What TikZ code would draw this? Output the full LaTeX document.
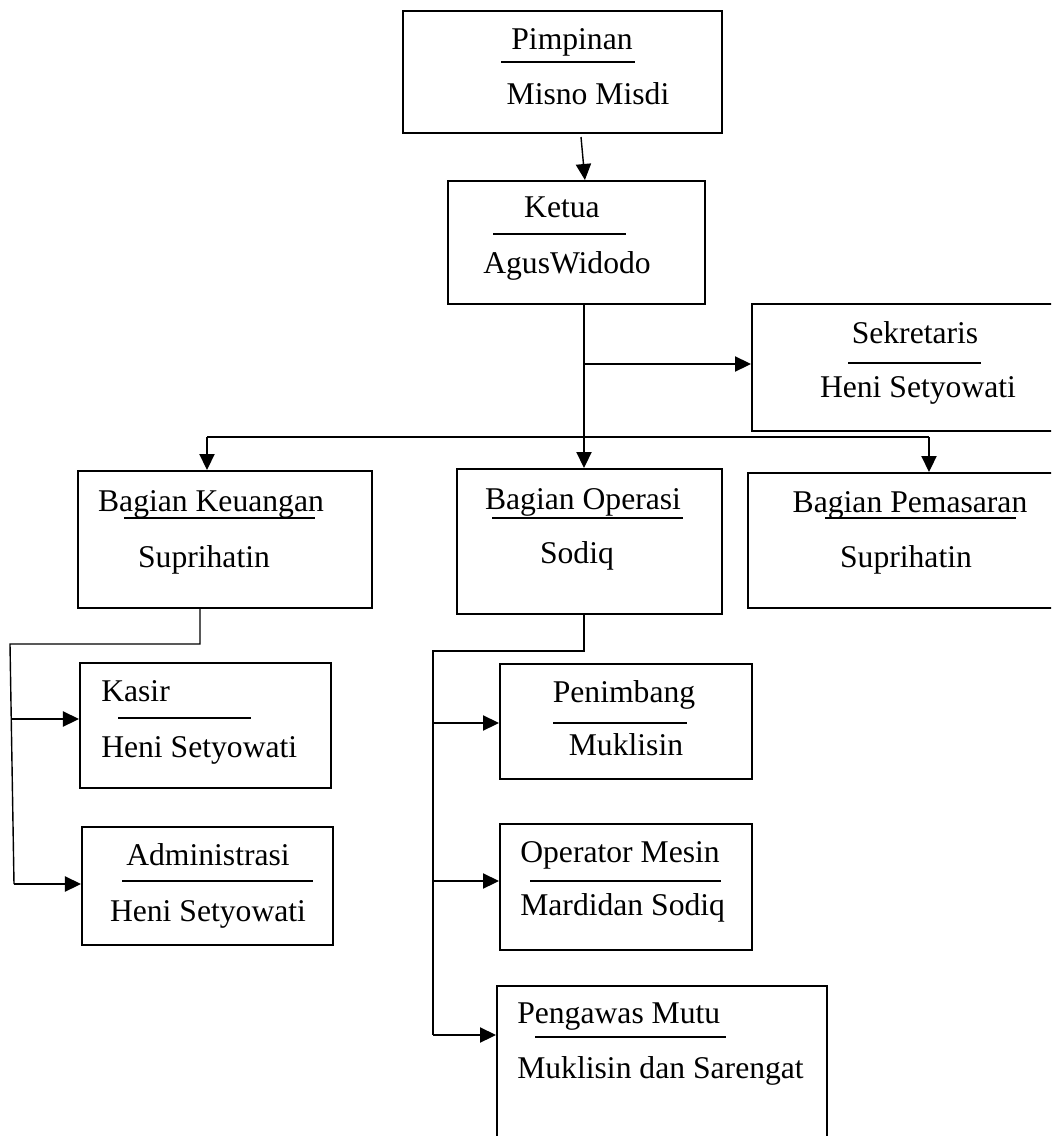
\documentclass[tikz,border=0pt]{standalone}
\usepackage{fontspec}
\setmainfont{Liberation Serif}
\usetikzlibrary{arrows.meta}

\begin{document}
\begin{tikzpicture}[x=0.025cm, y=-0.025cm,
    kotak/.style={draw, line width=1.3pt, inner sep=0pt, anchor=north west},
    teks/.style={anchor=base, inner sep=0pt, font=\fontsize{22.5}{27}\selectfont},
    garis/.style={line width=1pt},
    panah/.style={line width=1pt, -{Triangle[length=0.4cm, width=0.38cm]}},
    pemisah/.style={line width=1.2pt}]
            \useasboundingbox (0,0) rectangle (1051,1136);
            \clip (0,0) rectangle (1051,1136);

            % kotak jabatan
            \node[kotak, minimum width=319*0.025cm, minimum height=122*0.025cm] (pimpinan) at (402,10) {};
            \node[kotak, minimum width=257*0.025cm, minimum height=123*0.025cm] (ketua) at (447,180) {};
            \node[kotak, minimum width=360*0.025cm, minimum height=127*0.025cm] (sekretaris) at (751,303) {};
            \node[kotak, minimum width=294*0.025cm, minimum height=137*0.025cm] (keuangan) at (77,470) {};
            \node[kotak, minimum width=265*0.025cm, minimum height=145*0.025cm] (operasi) at (456,468) {};
            \node[kotak, minimum width=364*0.025cm, minimum height=135*0.025cm] (pemasaran) at (747,472) {};
            \node[kotak, minimum width=251*0.025cm, minimum height=125*0.025cm] (kasir) at (79,662) {};
            \node[kotak, minimum width=251*0.025cm, minimum height=118*0.025cm] (admin) at (81,826) {};
            \node[kotak, minimum width=252*0.025cm, minimum height=115*0.025cm] (penimbang) at (499,663) {};
            \node[kotak, minimum width=252*0.025cm, minimum height=126*0.025cm] (operator) at (499,823) {};
            \node[kotak, minimum width=330*0.025cm, minimum height=180*0.025cm] (pengawas) at (496,985) {};

            % isi kotak
            \node[teks] (pimpinanA) at (572,50) {Pimpinan};
            \node[teks] (pimpinanB) at (588,105) {Misno Misdi};
            \draw[pemisah] (501,62) -- (635,62);

            \node[teks] (ketuaA) at (562,218) {Ketua};
            \node[teks] (ketuaB) at (567,273) {AgusWidodo};
            \draw[pemisah] (493,234) -- (626,234);

            \node[teks] (sekretarisA) at (915,343) {Sekretaris};
            \node[teks] (sekretarisB) at (918,397) {Heni Setyowati};
            \draw[pemisah] (848,363) -- (981,363);

            \node[teks] (keuanganA) at (211,511) {Bagian Keuangan};
            \node[teks] (keuanganB) at (204,567) {Suprihatin};
            \draw[pemisah] (124,518) -- (315,518);

            \node[teks] (operasiA) at (583,509) {Bagian Operasi};
            \node[teks] (operasiB) at (577,563) {Sodiq};
            \draw[pemisah] (492,518) -- (683,518);

            \node[teks] (pemasaranA) at (910,512) {Bagian Pemasaran};
            \node[teks] (pemasaranB) at (906,567) {Suprihatin};
            \draw[pemisah] (825,518) -- (1016,518);

            \node[teks, anchor=base west] (kasirA) at (101,701) {Kasir};
            \node[teks, anchor=base west] (kasirB) at (101,757) {Heni Setyowati};
            \draw[pemisah] (118,718) -- (251,718);

            \node[teks] (adminA) at (208,865) {Administrasi};
            \node[teks] (adminB) at (208,921) {Heni Setyowati};
            \draw[pemisah] (122,881) -- (313,881);

            \node[teks] (penimbangA) at (624,702) {Penimbang};
            \node[teks] (penimbangB) at (626,755) {Muklisin};
            \draw[pemisah] (553,723) -- (687,723);

            \node[teks, anchor=base west] (operatorA) at (520,862) {Operator Mesin};
            \node[teks, anchor=base west] (operatorB) at (520,915) {Mardidan Sodiq};
            \draw[pemisah] (530,881) -- (721,881);

            \node[teks, anchor=base west] (pengawasA) at (517,1023) {Pengawas Mutu};
            \node[teks, anchor=base west] (pengawasB) at (517,1078) {Muklisin dan Sarengat};
            \draw[pemisah] (535,1037) -- (726,1037);

            % garis komando
            \coordinate (p0) at (581,137);
            \coordinate (batang) at (584,303);
            \coordinate (bk) at (207,437);
            \coordinate (bp) at (929,437);
            \draw[panah] (p0) -- ([xshift=8.5*0.025cm]ketua.north);
            \draw[panah] (batang) -- (batang |- operasi.north);
            \draw[panah] (batang |- 0,364) -- (sekretaris.west |- 0,364);
            \draw[garis] (bk) -- (bp);
            \draw[panah] (bk) -- (bk |- keuangan.north);
            \draw[panah] (bp) -- (bp |- pemasaran.north);

            \coordinate (ks) at (200,644);
            \coordinate (kl) at (10,644);
            \coordinate (kb) at (14,884);
            \draw[garis] (ks |- keuangan.south) -- (ks) -- (kl) -- (kb);
            \draw[panah] (12,719) -- (kasir.west |- 0,719);
            \draw[panah] (kb) -- (kb -| admin.west);

            \coordinate (os) at (584,651);
            \coordinate (ol) at (433,651);
            \coordinate (ob) at (433,1035);
            \draw[garis] (os |- operasi.south) -- (os) -- (ol) -- (ob);
            \draw[panah] (ol |- 0,723) -- (penimbang.west |- 0,723);
            \draw[panah] (ol |- 0,881) -- (operator.west |- 0,881);
            \draw[panah] (ob) -- (ob -| pengawas.west);
        \end{tikzpicture}
\end{document}
